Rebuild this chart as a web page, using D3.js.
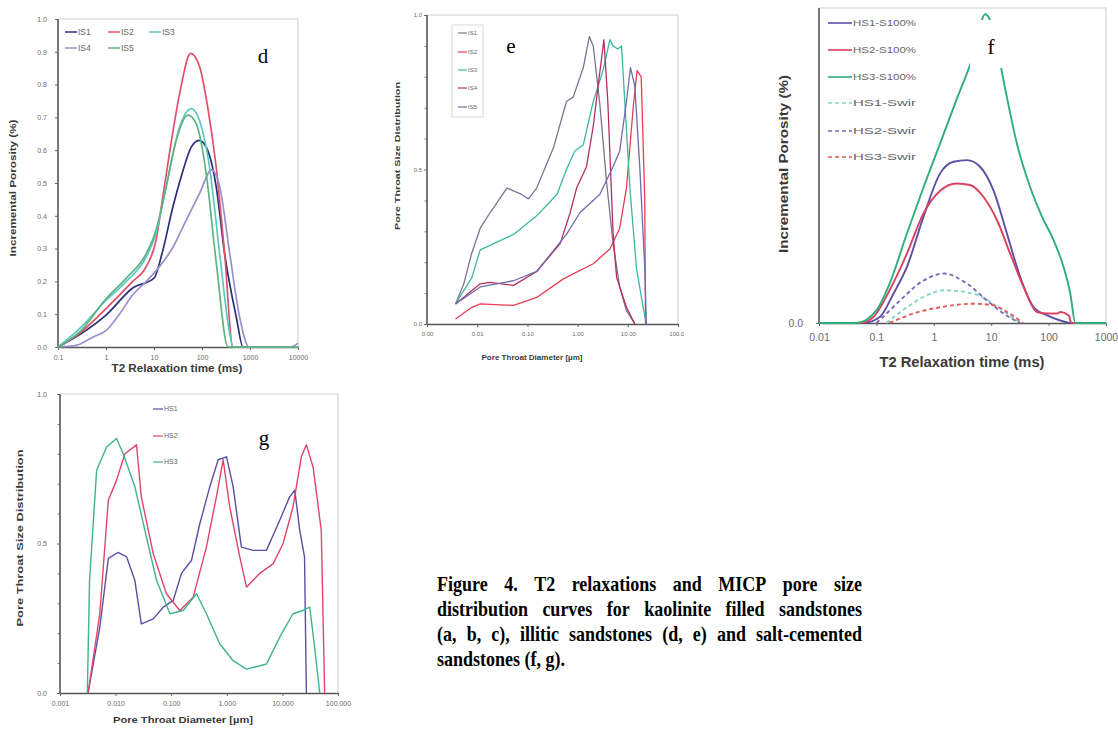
<!DOCTYPE html>
<html><head><meta charset="utf-8">
<script src="https://cdn.jsdelivr.net/npm/d3@7"></script>
<style>body{margin:0;background:#fff}svg{display:block}</style>
</head><body><svg id="c" width="1118" height="732"></svg>
<script>
// ================= DATA =================
// Panel d : T2 relaxation (illitic sandstones)
const dXTicks = [0.1, 1, 10, 100, 1000, 10000];
const dXLabels = ["0.1", "1", "10", "100", "1000", "10000"];
const dYTicks = [0, 0.1, 0.2, 0.3, 0.4, 0.5, 0.6, 0.7, 0.8, 0.9, 1.0];
const dYLabels = ["0.0", "0.1", "0.2", "0.3", "0.4", "0.5", "0.6", "0.7", "0.8", "0.9", "1.0"];
const dNames = ["IS1", "IS2", "IS3", "IS4", "IS5"];
const dIS1 = [[0.1,0],[0.3,0.04],[1,0.097],[3.6,0.18],[10,0.21],[15,0.29],[25,0.43],[37,0.52],[60,0.61],[87,0.63],[122,0.61],[197,0.49],[296,0.285],[520,0.09],[715,0],[10000,0]];
const dIS2 = [[0.1,0],[0.3,0.045],[1,0.117],[3.6,0.2],[6.9,0.245],[11,0.325],[15,0.45],[21,0.59],[34,0.77],[58,0.895],[89,0.855],[132,0.73],[197,0.55],[296,0.285],[441,0],[10000,0]];
const dIS3 = [[0.1,0],[0.3,0.06],[1,0.142],[2.65,0.2],[6.9,0.275],[11,0.346],[18,0.49],[34,0.67],[60,0.727],[89,0.69],[143,0.55],[233,0.285],[378,0.04],[441,0],[10000,0]];
const dIS4 = [[0.1,0],[0.24,0.005],[0.53,0.03],[1,0.05],[1.9,0.1],[3.65,0.16],[6.9,0.2],[13,0.245],[25,0.305],[47,0.387],[89,0.468],[158,0.54],[233,0.49],[378,0.285],[610,0.09],[955,0],[7000,0],[10000,0.012]];
const dIS5 = [[0.1,0],[0.3,0.05],[1,0.147],[2.65,0.21],[6.9,0.285],[11,0.356],[18,0.49],[29,0.63],[51,0.707],[76,0.68],[122,0.53],[197,0.26],[350,0],[10000,0]];

// Panel e : MICP pore throat (illitic sandstones)
const eXTicks = [0.001, 0.01, 0.1, 1, 10, 100];
const eXLabels = ["0.00", "0.01", "0.10", "1.00", "10.00", "100.00"];
const eYTicks = [0, 0.5, 1.0];
const eYLabels = ["0.0", "0.5", "1.0"];
const eNames = ["IS1", "IS2", "IS3", "IS4", "IS5"];
const eB1 = [[0.0037,0.065],[0.0054,0.13],[0.0078,0.23],[0.0115,0.31],[0.018,0.36],[0.039,0.44],[0.075,0.42],[0.105,0.405],[0.153,0.44],[0.33,0.57],[0.6,0.72],[0.82,0.735],[1.3,0.83],[1.71,0.93],[2.05,0.9],[2.78,0.71],[3.77,0.46],[5.1,0.26],[6.9,0.12],[9.4,0.043],[13.8,0]];
const eB2 = [[0.0037,0.016],[0.0078,0.054],[0.0115,0.065],[0.053,0.06],[0.153,0.086],[0.52,0.146],[2.05,0.195],[4.4,0.243],[6.9,0.31],[9.4,0.44],[12.8,0.70],[15.3,0.82],[18.5,0.8],[21.8,0.40],[22.5,0]];
const eB3 = [[0.0037,0.065],[0.0078,0.15],[0.0115,0.24],[0.053,0.29],[0.153,0.35],[0.39,0.42],[0.6,0.5],[0.88,0.56],[1.3,0.58],[2.05,0.72],[3.2,0.82],[4.4,0.92],[5.1,0.9],[6.3,0.89],[7.5,0.9],[8.7,0.72],[11,0.44],[14.9,0.18],[20.2,0.054],[23.5,0]];
const eB4 = [[0.0037,0.065],[0.0115,0.13],[0.018,0.135],[0.053,0.125],[0.153,0.17],[0.45,0.26],[0.71,0.36],[0.955,0.44],[1.51,0.51],[2.05,0.64],[2.6,0.78],[3.34,0.92],[4.0,0.72],[5.1,0.29],[6.0,0.15],[9.4,0.054],[13.8,0]];
const eB5 = [[0.0037,0.065],[0.0115,0.12],[0.053,0.14],[0.153,0.17],[0.6,0.29],[1.11,0.36],[2.78,0.42],[5.1,0.51],[6.9,0.56],[9.4,0.72],[11.3,0.83],[13.8,0.77],[17.3,0.51],[21.8,0.18],[23.5,0]];

// Panel f : T2 relaxation (salt-cemented sandstones)
const fXTicks = [0.01, 0.1, 1, 10, 100, 1000];
const fXLabels = ["0.01", "0.1", "1", "10", "100", "1000"];
const fYTicks = [0];
const fYLabels = ["0.0"];
const fNames = ["HS1-S100%", "HS2-S100%", "HS3-S100%", "HS1-Swir", "HS2-Swir", "HS3-Swir"];
const fHS1 = [[0.01,0],[0.059,0],[0.116,0.02],[0.198,0.093],[0.34,0.178],[0.66,0.337],[1.29,0.475],[2.2,0.512],[3.77,0.517],[6.4,0.496],[11,0.42],[18.8,0.284],[32,0.146],[55,0.05],[94,0.024],[160,0.008],[240,0],[1000,0]];
const fHS2 = [[0.01,0],[0.052,0],[0.089,0.019],[0.17,0.104],[0.34,0.22],[0.66,0.348],[1.29,0.42],[2.5,0.443],[4.3,0.438],[7.35,0.40],[12.6,0.327],[21.4,0.22],[36.6,0.115],[62.6,0.035],[100,0.03],[140,0.03],[160,0.035],[224,0.024],[250,0],[1000,0]];
const fHS3 = [[0.01,0],[0.045,0],[0.1,0.04],[0.17,0.125],[0.34,0.284],[0.66,0.43],[1.29,0.57],[2.5,0.71],[4.9,0.85],[7.85,0.98],[11,0.93],[16.4,0.77],[28,0.57],[48,0.43],[77,0.337],[122,0.263],[182,0.178],[239,0.093],[292,0],[1000,0]];
const fHS1w = [[0.15,0],[0.34,0.05],[0.8,0.09],[1.5,0.104],[4.9,0.093],[14.3,0.046],[28,0.008],[35,0]];
const fHS2w = [[0.1,0],[0.13,0.019],[0.26,0.072],[0.6,0.13],[1.5,0.157],[3.77,0.125],[8.4,0.072],[16.4,0.03],[32,0]];
const fHS3w = [[0.17,0],[0.44,0.03],[1.29,0.05],[5,0.061],[11,0.056],[18.8,0.035],[36,0]];

// Panel g : MICP pore throat (salt-cemented sandstones)
const gXTicks = [0.001, 0.01, 0.1, 1, 10, 100];
const gXLabels = ["0.001", "0.010", "0.100", "1.000", "10.000", "100.000"];
const gYTicks = [0, 0.5, 1.0];
const gYLabels = ["0.0", "0.5", "1.0"];
const gNames = ["HS1", "HS2", "HS3"];
const gHS1 = [[0.0032,0],[0.0052,0.22],[0.0074,0.45],[0.011,0.47],[0.0158,0.455],[0.0222,0.377],[0.029,0.231],[0.0475,0.248],[0.0718,0.287],[0.109,0.31],[0.153,0.4],[0.232,0.444],[0.327,0.566],[0.495,0.69],[0.70,0.78],[0.99,0.79],[1.3,0.69],[1.83,0.488],[2.97,0.477],[5.16,0.477],[8.96,0.578],[13.5,0.656],[16.7,0.678],[20.5,0.544],[25,0.455],[27,0]];
const gHS2 = [[0.0032,0],[0.0052,0.265],[0.0074,0.645],[0.0104,0.712],[0.0147,0.80],[0.0238,0.83],[0.029,0.656],[0.0475,0.466],[0.082,0.332],[0.143,0.276],[0.248,0.32],[0.43,0.488],[0.65,0.656],[0.86,0.78],[1.13,0.622],[1.71,0.455],[2.26,0.354],[3.9,0.4],[6.8,0.432],[10.3,0.50],[15.5,0.622],[21.9,0.79],[27,0.83],[35.6,0.756],[50,0.544],[57.5,0]];
const gHS3 = [[0.0031,0],[0.0034,0.377],[0.00456,0.745],[0.0069,0.823],[0.0104,0.851],[0.0137,0.80],[0.0222,0.69],[0.036,0.52],[0.0545,0.377],[0.0946,0.265],[0.164,0.276],[0.285,0.332],[0.43,0.265],[0.75,0.164],[1.3,0.108],[2.26,0.08],[5.2,0.097],[8.96,0.187],[15.5,0.265],[23.5,0.276],[31,0.287],[38,0.153],[47,0]];

const captionLines = [
  "Figure 4. T2 relaxations and MICP pore size",
  "distribution curves for kaolinite filled sandstones",
  "(a, b, c), illitic sandstones (d, e) and salt-cemented",
  "sandstones (f, g)."
];

// ================= DRAWING =================
const SANS = "'Liberation Sans', Arial, sans-serif";
const SERIF = "'Liberation Serif', 'Times New Roman', serif";
const svg = d3.select("#c");
svg.append("rect").attr("width", 1118).attr("height", 732).attr("fill", "#fff");

function drawPanel(p) {
  const g = svg.append("g");
  if (p.clip) {
    const id = "clip" + p.letter;
    svg.append("clipPath").attr("id", id).append("rect")
      .attr("x", p.clip[0]).attr("y", p.clip[1]).attr("width", p.clip[2]).attr("height", p.clip[3]);
    g.attr("clip-path", `url(#${id})`);
  }
  const x = d3.scaleLog().domain(p.xDomain).range(p.xRange);
  const y = d3.scaleLinear().domain([0, 1]).range(p.yRange);
  const [x0, x1] = p.xRange, [y0, y1] = p.yRange;

  // light frame (top + right)
  g.append("path").attr("d", `M${x0},${y1}H${x1}V${y0}`)
    .attr("fill", "none").attr("stroke", "#d2d2d2").attr("stroke-width", 1.2);

  // minor y ticks
  if (p.yMinor) {
    g.append("g").attr("transform", `translate(${x0},0)`)
      .call(d3.axisLeft(y).tickValues(p.yMinor).tickSize(2.5).tickFormat(""))
      .call(s => s.select(".domain").remove())
      .call(s => s.selectAll("line").attr("stroke", "#777"));
  }
  // axes
  const xa = g.append("g").attr("transform", `translate(0,${y0})`)
    .call(d3.axisBottom(x).tickValues(p.xTicks).tickFormat((d, i) => p.xLabels[i])
      .tickSize(3).tickSizeOuter(0).tickPadding(p.xPad));
  const ya = g.append("g").attr("transform", `translate(${x0},0)`)
    .call(d3.axisLeft(y).tickValues(p.yTicks).tickFormat((d, i) => p.yLabels[i])
      .tickSize(3).tickSizeOuter(0).tickPadding(p.yPad));
  [xa, ya].forEach(a => {
    a.select(".domain").attr("stroke", "#555").attr("stroke-width", 1.6);
    a.selectAll("line").attr("stroke", "#666");
    a.selectAll("text").attr("fill", "#6a6a6a").style("font-family", SANS)
      .style("font-size", p.tickFont + "px");
  });
  ya.select(".domain").attr("d", `M0,${y0}V${y1}`);

  // curves
  const line = d3.line().x(d => x(d[0])).y(d => y(d[1])).curve(p.curve);
  p.series.forEach(s => {
    g.append("path").datum(s.data).attr("d", line).attr("fill", "none")
      .attr("stroke", s.color).attr("stroke-width", p.lw)
      .attr("stroke-dasharray", s.dash || null).attr("stroke-linejoin", "round");
  });

  // axis titles
  const t = p.xTitle;
  svg.append("text").attr("x", t.x).attr("y", t.y).attr("text-anchor", "middle")
    .attr("textLength", t.len).attr("lengthAdjust", "spacingAndGlyphs")
    .style("font-family", SANS).style("font-weight", "bold").style("font-size", t.size + "px")
    .attr("fill", "#3a3a3a").text(t.text);
  const u = p.yTitle;
  svg.append("text").attr("transform", `translate(${u.x},${u.y}) rotate(-90)`)
    .attr("text-anchor", "middle").attr("textLength", u.len).attr("lengthAdjust", "spacingAndGlyphs")
    .style("font-family", SANS).style("font-weight", "bold").style("font-size", u.size + "px")
    .attr("fill", "#3a3a3a").text(u.text);

  // legend
  const L = p.legend;
  if (L.box) {
    svg.append("rect").attr("x", L.box[0]).attr("y", L.box[1]).attr("width", L.box[2]).attr("height", L.box[3])
      .attr("fill", "none").attr("stroke", "#d8d8d8");
  }
  p.series.forEach((s, i) => {
    const pos = L.pos[i];
    svg.append("line").attr("x1", pos[0]).attr("x2", pos[0] + L.lineLen).attr("y1", pos[1]).attr("y2", pos[1])
      .attr("stroke", s.color).attr("stroke-width", L.lw).attr("stroke-dasharray", s.dash || null);
    svg.append("text").attr("x", pos[0] + L.lineLen + 1).attr("y", pos[1]).attr("dy", "0.35em")
      .style("font-family", SANS).style("font-size", L.size + "px").attr("fill", "#666")
      .attr("textLength", L.textLen || null).attr("lengthAdjust", "spacingAndGlyphs")
      .text(s.name);
  });

  // panel letter with white box
  const b = p.letterBox;
  svg.append("rect").attr("x", b[0]).attr("y", b[1]).attr("width", b[2]).attr("height", b[3]).attr("fill", "#fff");
  svg.append("text").attr("x", b[0] + b[2] / 2).attr("y", p.letterY).attr("text-anchor", "middle")
    .style("font-family", SERIF).style("font-size", "21px").attr("fill", "#000").text(p.letter);
}

// ---- panel d ----
drawPanel({
  letter: "d", xDomain: [0.1, 10000], xRange: [58, 298], yRange: [347, 19],
  xTicks: dXTicks, xLabels: dXLabels, yTicks: dYTicks, yLabels: dYLabels,
  xPad: 5, yPad: 8, tickFont: 7, lw: 1.7, curve: d3.curveMonotoneX,
  series: [
    { name: dNames[0], data: dIS1, color: "#27307a" },
    { name: dNames[1], data: dIS2, color: "#e0506a" },
    { name: dNames[2], data: dIS3, color: "#5cc8c4" },
    { name: dNames[3], data: dIS4, color: "#9b8fcf" },
    { name: dNames[4], data: dIS5, color: "#5db57e" }
  ],
  xTitle: { text: "T2 Relaxation time (ms)", x: 177, y: 372, len: 131, size: 10 },
  yTitle: { text: "Incremental Porosity (%)", x: 16, y: 188, len: 137, size: 8.5 },
  legend: { pos: [[65, 32], [108, 32], [149, 32], [65, 48], [108, 48]], lineLen: 12, lw: 1.5, size: 8.5 },
  letterBox: [248, 40, 30, 30], letterY: 63
});

// ---- panel e ----
drawPanel({
  letter: "e", xDomain: [0.001, 100], xRange: [427, 678], yRange: [324, 15],
  clip: [380, 0, 304, 380],
  xTicks: eXTicks, xLabels: eXLabels, yTicks: eYTicks, yLabels: eYLabels,
  yMinor: [0.1, 0.2, 0.3, 0.4, 0.6, 0.7, 0.8, 0.9],
  xPad: 5, yPad: 2, tickFont: 6, lw: 1.3, curve: d3.curveLinear,
  series: [
    { name: eNames[0], data: eB1, color: "#7d7494" },
    { name: eNames[1], data: eB2, color: "#ea3c52" },
    { name: eNames[2], data: eB3, color: "#3db89e" },
    { name: eNames[3], data: eB4, color: "#b52f5e" },
    { name: eNames[4], data: eB5, color: "#6f6bb0" }
  ],
  xTitle: { text: "Pore Throat Diameter [µm]", x: 532, y: 360, len: 101, size: 7.5 },
  yTitle: { text: "Pore Throat  Size Distribution", x: 400, y: 156, len: 148, size: 7.5 },
  legend: { box: [452, 25, 31, 92], pos: [[458, 33], [458, 52], [458, 70], [458, 88], [458, 107]], lineLen: 9, lw: 1.2, size: 6 },
  letterBox: [497, 28, 28, 30], letterY: 53
});

// ---- panel f ----
drawPanel({
  letter: "f", xDomain: [0.01, 1000], xRange: [819, 1106], yRange: [323, 8],
  xTicks: fXTicks, xLabels: fXLabels, yTicks: fYTicks, yLabels: fYLabels,
  xPad: 8, yPad: 13, tickFont: 10.5, lw: 1.9, curve: d3.curveMonotoneX,
  series: [
    { name: fNames[0], data: fHS1, color: "#5c4fa6" },
    { name: fNames[1], data: fHS2, color: "#d8425e" },
    { name: fNames[2], data: fHS3, color: "#2fae7c" },
    { name: fNames[3], data: fHS1w, color: "#86d6c6", dash: "4,3" },
    { name: fNames[4], data: fHS2w, color: "#7a68b8", dash: "4,3" },
    { name: fNames[5], data: fHS3w, color: "#e25a5a", dash: "4,3" }
  ],
  xTitle: { text: "T2 Relaxation time (ms)", x: 962, y: 367, len: 165, size: 14 },
  yTitle: { text: "Incremental Porosity (%)", x: 788, y: 164, len: 178, size: 13.5 },
  legend: { pos: [[828, 23], [828, 50], [828, 77], [828, 103], [828, 131], [828, 157]], lineLen: 24, lw: 1.6, size: 9.5, textLen: 63 },
  letterBox: [970, 20, 42, 48], letterY: 54
});

// ---- panel g ----
drawPanel({
  letter: "g", xDomain: [0.001, 100], xRange: [60, 338], yRange: [693, 394],
  xTicks: gXTicks, xLabels: gXLabels, yTicks: gYTicks, yLabels: gYLabels,
  yMinor: [0.1, 0.2, 0.3, 0.4, 0.6, 0.7, 0.8, 0.9],
  xPad: 5, yPad: 10, tickFont: 7, lw: 1.4, curve: d3.curveLinear,
  series: [
    { name: gNames[0], data: gHS1, color: "#5a4fa3" },
    { name: gNames[1], data: gHS2, color: "#e4436a" },
    { name: gNames[2], data: gHS3, color: "#3fb38c" }
  ],
  xTitle: { text: "Pore Throat Diameter [µm]", x: 183, y: 723, len: 140, size: 9.5 },
  yTitle: { text: "Pore Throat  Size Distribution", x: 23, y: 538, len: 177, size: 9 },
  legend: { pos: [[153, 409], [153, 436], [153, 462]], lineLen: 10, lw: 1.2, size: 7 },
  letterBox: [250, 422, 28, 32], letterY: 445
});

// ---- caption (justified, slightly tall glyphs like the source scan) ----
const capX0 = 437, capX1 = 862, capY0 = 591, capDY = 25;
captionLines.forEach((ln, i) => {
  const words = ln.split(" ");
  const ty = capY0 + i * capDY;
  const grp = svg.append("g").attr("transform", `translate(0,${ty}) scale(1,1.18)`);
  const nodes = words.map(w => grp.append("text").attr("y", 0)
    .style("font-family", SERIF).style("font-weight", "bold").style("font-size", "18px")
    .attr("fill", "#000").text(w));
  const widths = nodes.map(n => n.node().getComputedTextLength());
  const total = d3.sum(widths);
  const last = i === captionLines.length - 1;
  const gap = last ? 18 * 0.25 : (capX1 - capX0 - total) / (words.length - 1);
  let cx = capX0;
  nodes.forEach((n, k) => { n.attr("x", cx); cx += widths[k] + gap; });
});
</script>
</body></html>
